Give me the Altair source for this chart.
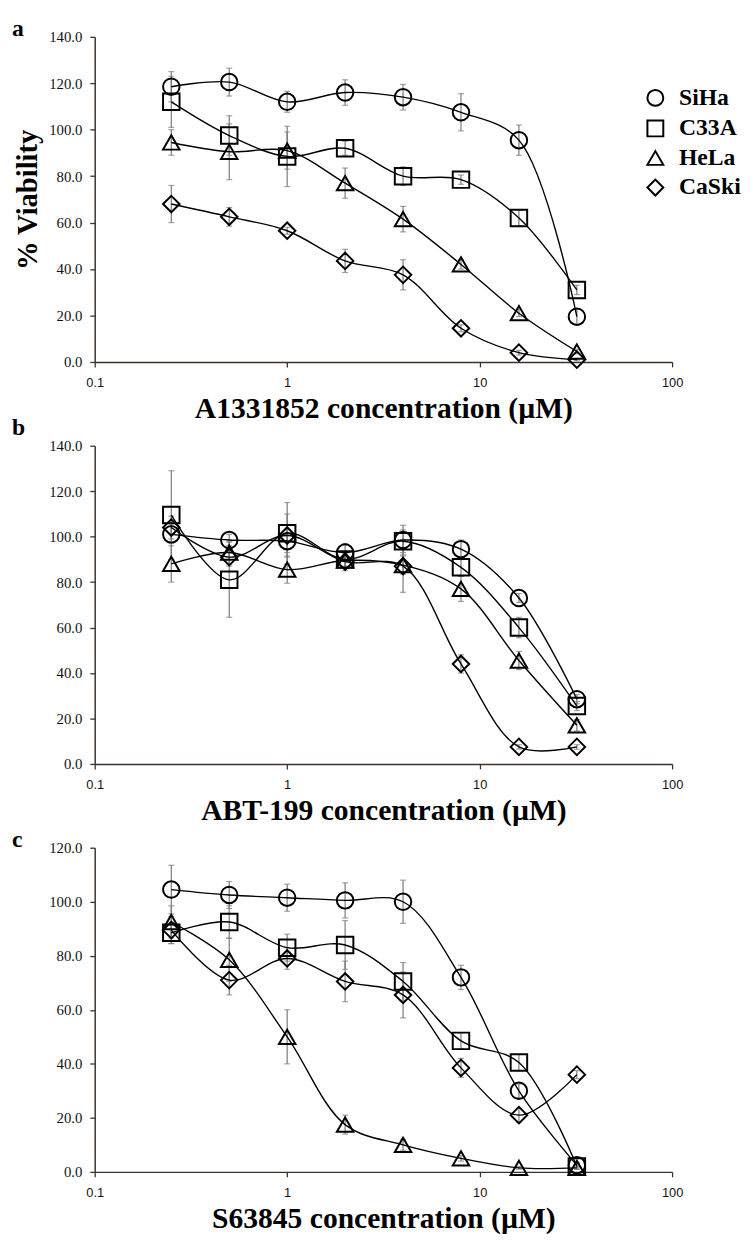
import altair as alt
import pandas as pd

conc = [0.25, 0.5, 1, 2, 4, 8, 16, 32]
lines = ["SiHa", "C33A", "HeLa", "CaSki"]
symbols = ["circle", "square", "triangle-up", "diamond"]
x_ticks = [0.1, 1, 10, 100]
panel_tags = ["a", "b", "c"]
x_titles = ["A1331852 concentration (\u00b5M)", "ABT-199 concentration (\u00b5M)", "S63845 concentration (\u00b5M)"]

# panel a (A1331852)
a_siha = [118.5, 120.5, 112.0, 116.0, 114.0, 107.5, 95.5, 19.5]
a_siha_sd = [6.5, 6.0, 4.5, 5.5, 5.5, 8.0, 6.5, 3.5]
a_c33a = [112.0, 97.5, 88.5, 92.0, 80.0, 78.5, 62.0, 31.0]
a_c33a_sd = [11.0, 8.5, 13.0, 3.0, 4.0, 2.0, 3.5, 2.0]
a_hela = [94.5, 90.5, 91.0, 77.0, 61.5, 42.0, 21.0, 4.5]
a_hela_sd = [5.5, 12.0, 8.0, 6.5, 5.5, 2.0, 1.5, 1.0]
a_caski = [68.0, 62.5, 56.5, 43.5, 37.5, 14.5, 4.0, 1.0]
a_caski_sd = [8.0, 4.0, 1.5, 5.0, 6.5, 1.5, 1.0, 0.5]

# panel b (ABT-199)
b_siha = [101.0, 98.5, 98.0, 93.0, 98.5, 94.5, 73.0, 28.5]
b_siha_sd = [4.0, 2.5, 5.0, 4.0, 6.5, 4.0, 2.0, 2.0]
b_c33a = [109.5, 81.0, 101.5, 90.0, 98.0, 86.5, 60.0, 25.5]
b_c33a_sd = [19.5, 16.5, 13.5, 3.0, 5.0, 4.0, 4.5, 2.0]
b_hela = [88.0, 93.0, 85.5, 89.5, 87.5, 77.0, 45.5, 17.0]
b_hela_sd = [8.0, 5.0, 6.0, 3.0, 4.0, 5.5, 4.0, 2.5]
b_caski = [104.0, 91.0, 100.5, 89.0, 87.0, 44.0, 7.5, 7.5]
b_caski_sd = [5.0, 4.0, 9.5, 4.0, 11.5, 4.0, 1.0, 1.0]

# panel c (S63845)
c_siha = [104.5, 102.5, 101.5, 100.5, 100.0, 72.0, 30.0, 2.5]
c_siha_sd = [9.0, 5.0, 5.0, 6.5, 8.0, 4.5, 2.5, 1.0]
c_c33a = [88.5, 92.5, 83.0, 84.0, 70.5, 48.5, 40.5, 2.0]
c_c33a_sd = [4.0, 6.0, 5.0, 9.0, 7.0, 3.0, 3.0, 1.0]
c_hela = [92.5, 78.5, 50.0, 17.5, 10.0, 5.0, 1.5, 1.5]
c_hela_sd = [6.0, 8.0, 10.0, 3.5, 2.0, 1.0, 0.5, 0.5]
c_caski = [89.5, 71.0, 79.0, 70.5, 65.5, 38.5, 21.0, 36.0]
c_caski_sd = [5.0, 5.5, 4.0, 7.5, 8.5, 3.5, 2.5, 1.5]

SERIF = "Liberation Serif"
AX = "#3f302a"
ERR = "#7a7a7a"


def panel(vals, sds, ymax, height, xtitle, tag, tag_y, ytitle, legend):
    rows = []
    for s, v, e in zip(lines, vals, sds):
        for c, y, d in zip(conc, v, e):
            rows.append({"conc": c, "v": y, "lo": y - d, "hi": y + d, "series": s})
    df = pd.DataFrame(rows)
    xs = alt.Scale(type="log", domain=[0.1, 100], nice=False)
    ys = alt.Scale(domain=[0, ymax], nice=False)
    xax = alt.Axis(values=x_ticks, format="~g", title=xtitle, labelFlush=False)
    yax = alt.Axis(values=list(range(0, ymax + 1, 20)), format=".1f", title=ytitle, labelFlush=False)
    X = alt.X("conc:Q", scale=xs, axis=xax)
    base = alt.Chart(df)
    err = base.mark_rule(color=ERR, strokeWidth=1.2).encode(
        x=X, y=alt.Y("lo:Q", scale=ys, axis=yax), y2="hi:Q")
    cap_lo = base.mark_tick(orient="horizontal", size=6, thickness=1.2, color=ERR).encode(
        x=X, y=alt.Y("lo:Q", scale=ys, axis=yax))
    cap_hi = base.mark_tick(orient="horizontal", size=6, thickness=1.2, color=ERR).encode(
        x=X, y=alt.Y("hi:Q", scale=ys, axis=yax))
    line = base.mark_line(interpolate="catmull-rom", color="black", strokeWidth=1.4).encode(
        x=X, y=alt.Y("v:Q", scale=ys, axis=yax), detail="series:N")
    if legend:
        leg = alt.Legend(orient="none", legendX=557, legendY=50, title=None,
                         labelFont=SERIF, labelFontSize=24, labelFontWeight="bold",
                         labelColor="black", symbolSize=260, symbolStrokeWidth=2,
                         symbolStrokeColor="black", symbolFillColor="transparent",
                         labelOffset=12, rowPadding=5, padding=0)
    else:
        leg = None
    pts = base.mark_point(filled=False, size=280, strokeWidth=2, color="black", opacity=1).encode(
        x=X, y=alt.Y("v:Q", scale=ys, axis=yax),
        shape=alt.Shape("series:N", scale=alt.Scale(domain=lines, range=symbols), legend=leg))
    lab = alt.Chart(pd.DataFrame({"t": [tag]})).mark_text(
        font=SERIF, fontSize=24, fontWeight="bold", align="left",
        baseline="alphabetic", color="black").encode(
        text="t:N", x=alt.value(-84), y=alt.value(tag_y))
    return alt.layer(err, cap_lo, cap_hi, line, pts, lab).properties(width=586, height=height)


pa = panel([a_siha, a_c33a, a_hela, a_caski], [a_siha_sd, a_c33a_sd, a_hela_sd, a_caski_sd],
           140, 330, x_titles[0], panel_tags[0], -1, "% Viability", True)
pb = panel([b_siha, b_c33a, b_hela, b_caski], [b_siha_sd, b_c33a_sd, b_hela_sd, b_caski_sd],
           140, 323, x_titles[1], panel_tags[1], -11, None, False)
pc = panel([c_siha, c_c33a, c_hela, c_caski], [c_siha_sd, c_c33a_sd, c_hela_sd, c_caski_sd],
           120, 329, x_titles[2], panel_tags[2], -1, None, False)

chart = alt.vconcat(pa, pb, pc, spacing=85, bounds="flush").resolve_scale(
    shape="independent", x="independent", y="independent"
).properties(
    padding={"top": 0, "left": 4, "right": 5, "bottom": 5}
).configure_view(stroke=None).configure_axisX(
    grid=False, labelFont="Liberation Sans", labelFontSize=13, labelColor="#111",
    labelPadding=10, tickSize=5, tickColor=AX, tickWidth=1.3,
    domainColor=AX, domainWidth=1.5,
    titleFont=SERIF, titleFontSize=30, titleFontWeight="bold", titleColor="black", titlePadding=4
).configure_axisY(
    grid=False, labelFont=SERIF, labelFontSize=15, labelColor="#111",
    labelPadding=8, tickSize=5, tickColor=AX, tickWidth=1.3,
    domainColor=AX, domainWidth=1.5,
    titleFont=SERIF, titleFontSize=29, titleFontWeight="bold", titleColor="black", titlePadding=6
)

chart.save("out.html", embed_options={"renderer": "svg", "actions": False})
